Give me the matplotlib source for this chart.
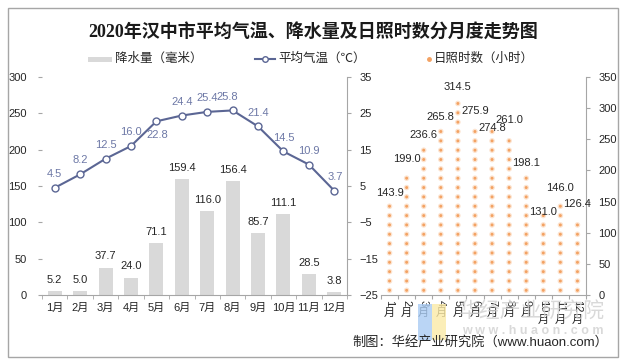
import matplotlib
matplotlib.use("Agg")
import matplotlib.pyplot as plt
import numpy as np
from matplotlib.patches import Rectangle
from matplotlib.lines import Line2D
import matplotlib.transforms as mtransforms

plt.rcParams['font.family'] = ['Liberation Sans', 'Noto Sans CJK SC']

# ---- data ----
months = ['1月', '2月', '3月', '4月', '5月', '6月', '7月', '8月', '9月', '10月', '11月', '12月']
month_nums = ['1', '2', '3', '4', '5', '6', '7', '8', '9', '10', '11', '12']
rain = [5.2, 5.0, 37.7, 24.0, 71.1, 159.4, 116.0, 156.4, 85.7, 111.1, 28.5, 3.8]
temp = [4.5, 8.2, 12.5, 16.0, 22.8, 24.4, 25.4, 25.8, 21.4, 14.5, 10.9, 3.7]
sun = [143.9, 199.0, 236.6, 265.8, 314.5, 275.9, 274.8, 261.0, 198.1, 131.0, 146.0, 126.4]

title = '2020年汉中市平均气温、降水量及日照时数分月度走势图'
rain_name = '降水量（毫米）'
temp_name = '平均气温（℃）'
sun_name = '日照时数（小时）'
source = '制图：华经产业研究院（www.huaon.com）'

# ---- styling ----
bar_color = '#d9d9d9'
line_color = '#5b6694'
temp_label_color = '#6d78a6'
dot_color = '#f3a263'
halo_color = '#fce3cf'
text_color = '#262626'
temp_offsets = [10, 10, 10, 10, -10, 10, 10, 10, 10, 10, 10, 10]
temp_xoffsets = [0, 0, 0, 0, 1, 0, 0, -4, 0, 0, 0, 1]
sun_offsets = [9, 9, 9, 9, 9, 9, -3, 9, 6, 1, 11.5, 9]
dot_step = 15

W, H = 624, 359
fig = plt.figure(figsize=(W / 100, H / 100), dpi=100)

def fx(px):
    return px / W

def fy(py):
    return 1 - py / H

# border
fig.patches.append(Rectangle((fx(8), fy(357)), fx(610), (349) / H, transform=fig.transFigure,
                             fill=False, edgecolor='#a6a6a6', linewidth=1.0))

# ---- left chart ----
axL = fig.add_axes([fx(42), fy(295), fx(305), (295 - 77) / H])
x = np.arange(len(months))
axL.bar(x, rain, width=0.55, color=bar_color, zorder=2)
axL.set_xlim(-0.5, 11.5)
axL.set_ylim(0, 300)
axL.set_yticks(np.arange(0, 301, 50))
axL.set_xticks(x)
axL.set_xticklabels(months, fontsize=8, color=text_color)
axL.set_xticks(np.arange(-0.5, 12, 1), minor=True)
axL.tick_params(axis='x', which='major', length=0, pad=6)
axL.tick_params(axis='x', which='minor', length=3, color='#a6a6a6', direction='out')
axL.tick_params(axis='y', labelsize=8, labelcolor=text_color, length=3, color='#a6a6a6', pad=8)
for s in ['top', 'right', 'left']:
    axL.spines[s].set_visible(False)
axL.spines['bottom'].set_color('#a6a6a6')
for xi, v in zip(x, rain):
    axL.annotate(f'{v:.1f}', (xi, v), xytext=(0, 8), textcoords='offset points',
                 ha='center', va='center', fontsize=8, color=text_color, zorder=5)

axT = axL.twinx()
axT.set_ylim(-25, 35)
axT.set_yticks(np.arange(-25, 36, 10))
axT.plot(x, temp, color=line_color, linewidth=1.5, marker='o', markersize=5,
         markerfacecolor='white', markeredgecolor=line_color, markeredgewidth=1.0, zorder=4)
axT.tick_params(axis='y', labelsize=8, labelcolor=text_color, length=3, color='#a6a6a6', pad=6)
for s in ['top', 'left', 'bottom']:
    axT.spines[s].set_visible(False)
axT.spines['right'].set_color('#a6a6a6')
for xi, v, dy, dx in zip(x, temp, temp_offsets, temp_xoffsets):
    axT.annotate(f'{v:.1f}', (xi, v), xytext=(dx, dy), textcoords='offset points',
                 ha='center', va='center', fontsize=8, color=temp_label_color, zorder=5)

# ---- right chart ----
axR = fig.add_axes([fx(381), fy(295), fx(205), (295 - 77) / H])
axR.set_xlim(-0.5, 11.5)
axR.set_ylim(0, 350)
for xi, v in zip(x, sun):
    ys = np.arange(dot_step / 2, v, dot_step)
    xs = np.full_like(ys, xi, dtype=float)
    axR.scatter(xs, ys, s=16, color=halo_color, edgecolors='none', zorder=2)
    axR.scatter(xs, ys, s=4.5, color=dot_color, edgecolors='none', zorder=3)
for xi, v, dy in zip(x, sun, sun_offsets):
    axR.annotate(f'{v:.1f}', (xi, v), xytext=(0, dy), textcoords='offset points',
                 ha='center', va='center', fontsize=8, color=text_color, zorder=5)
axR.yaxis.tick_right()
axR.set_yticks(np.arange(0, 351, 50))
axR.tick_params(axis='y', labelsize=8, labelcolor=text_color, length=3, color='#a6a6a6', pad=6)
axR.set_xticks(np.arange(-0.5, 12, 1))
axR.set_xticklabels([])
axR.tick_params(axis='x', length=3, color='#a6a6a6', direction='out')
for s in ['top', 'left']:
    axR.spines[s].set_visible(False)
axR.spines['right'].set_color('#a6a6a6')
axR.spines['bottom'].set_color('#a6a6a6')
# vertical-style month labels: digits rotated, 月 upright
trans = mtransforms.blended_transform_factory(axR.transData, fig.transFigure)
for xi, num in zip(x, month_nums):
    top = fy(300)
    axR.text(xi, top, num, rotation=270, ha='center', va='top', fontsize=8,
             color=text_color, transform=trans, zorder=3)
    ypos = fy(313) if len(num) == 1 else fy(320)
    axR.text(xi, ypos, '月', ha='center', va='center', fontsize=8, color=text_color,
             transform=trans, zorder=3)

# ---- title & legend ----
fig.text(fx(313), fy(32), title, ha='center', va='center', fontsize=13, fontweight='bold',
         family=['Liberation Serif', 'Noto Sans CJK SC'], color='#1a1a1a')

fig.patches.append(Rectangle((fx(88), fy(62)), fx(24), 5 / H, transform=fig.transFigure,
                             facecolor=bar_color, edgecolor='none'))
fig.text(fx(115), fy(59), rain_name, ha='left', va='center', fontsize=9, color=text_color)
fig.lines.append(Line2D([fx(255), fx(275)], [fy(59), fy(59)], transform=fig.transFigure,
                        color=line_color, linewidth=1.5))
fig.lines.append(Line2D([fx(265)], [fy(59)], transform=fig.transFigure, marker='o',
                        markersize=4, markerfacecolor='white', markeredgecolor=line_color,
                        linestyle='none'))
fig.text(fx(278), fy(59), temp_name, ha='left', va='center', fontsize=9, color=text_color)
fig.lines.append(Line2D([fx(429)], [fy(59)], transform=fig.transFigure, marker='o',
                        markersize=2.5, color=dot_color, linestyle='none'))
fig.text(fx(434), fy(59), sun_name, ha='left', va='center', fontsize=9, color=text_color)

# watermark
fig.text(fx(604), fy(312), '华经产业研究院', ha='right', va='center', fontsize=15,
         color='#d0d0d0', alpha=0.8, zorder=0)
fig.text(fx(604), fy(331), 'w w w . h u a o n . c o m', ha='right', va='center', fontsize=9,
         fontweight='bold', color='#d0d0d0', alpha=0.8, zorder=0)
fig.patches.append(Rectangle((fx(418), fy(340)), fx(14), 36 / H, transform=fig.transFigure,
                             facecolor='#a9cbf3', edgecolor='none', alpha=0.8, zorder=0))
fig.patches.append(Rectangle((fx(432), fy(340)), fx(14), 36 / H, transform=fig.transFigure,
                             facecolor='#fbeaa6', edgecolor='none', alpha=0.8, zorder=0))

# source
fig.text(fx(608), fy(342), source, ha='right', va='center', fontsize=9.5, color=text_color)

fig.savefig('out.png', dpi=100)
